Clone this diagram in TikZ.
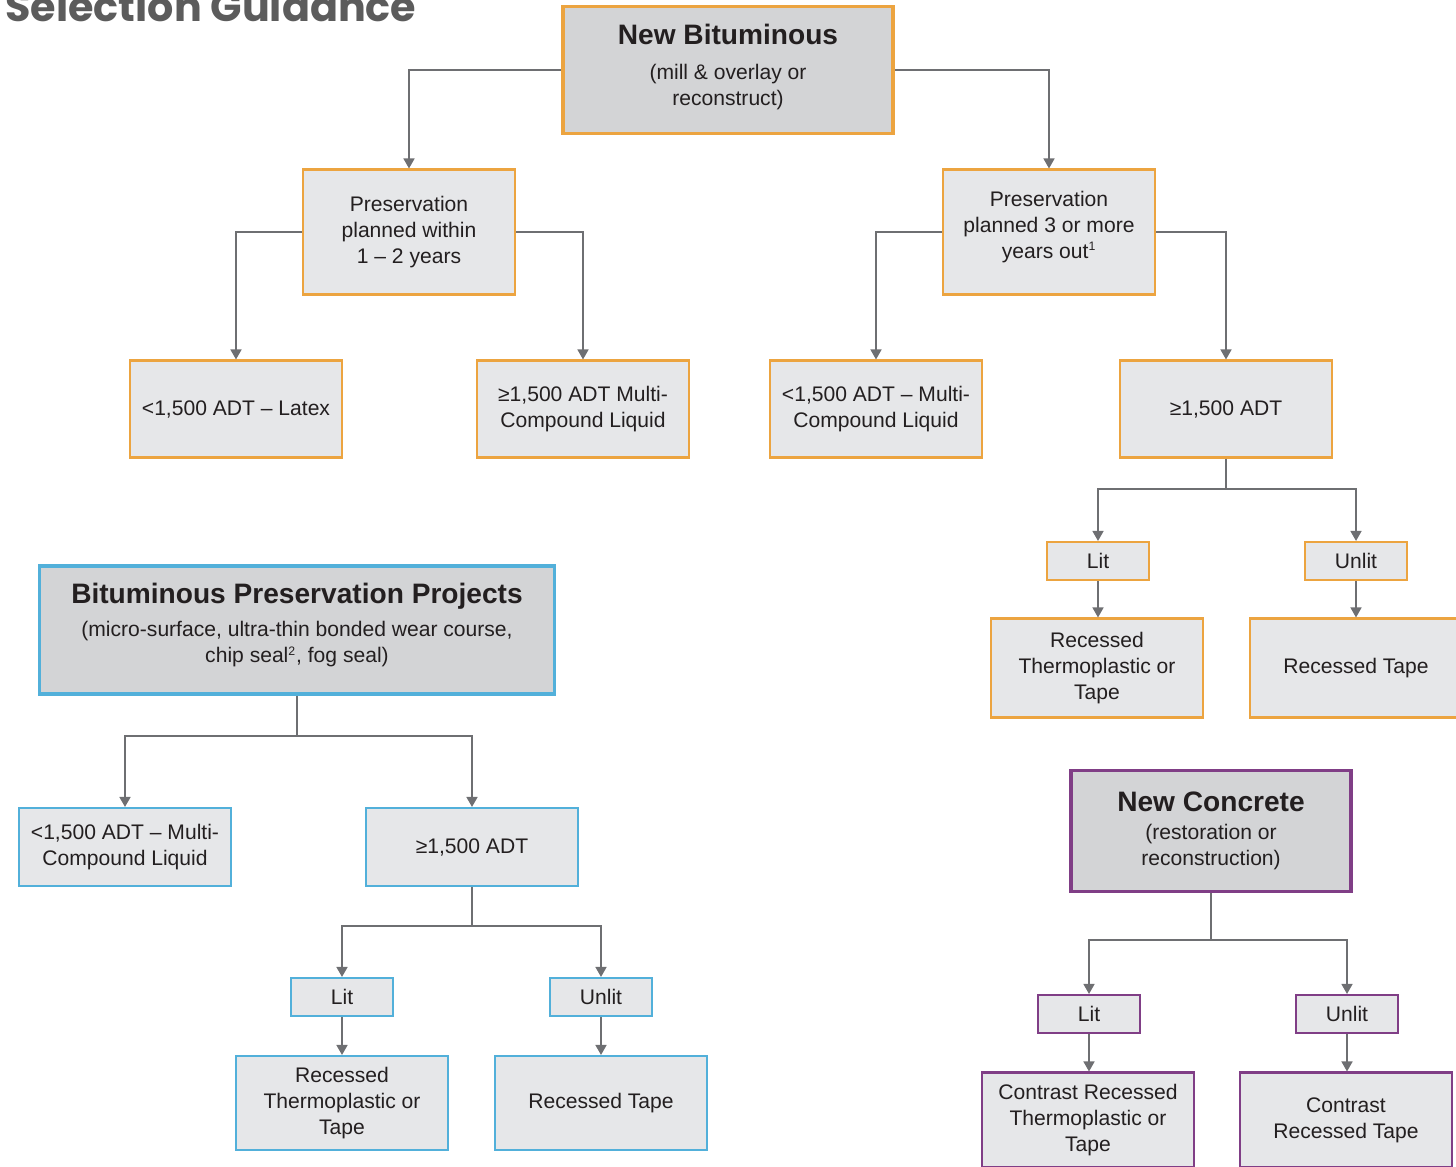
\documentclass[tikz,border=0pt]{standalone}
\usepackage{fontspec}
\setmainfont{Liberation Sans}
\newfontfamily\guidefont{Poppins}
\usetikzlibrary{arrows.meta}
\definecolor{headgray}{RGB}{211,212,214}
\definecolor{boxgray}{RGB}{230,231,233}
\definecolor{inkblack}{RGB}{35,31,32}
\definecolor{linkgray}{RGB}{110,111,114}
\definecolor{titlegray}{RGB}{92,92,92}
\definecolor{bitorange}{RGB}{236,164,64}
\definecolor{presblue}{RGB}{82,176,218}
\definecolor{conpurple}{RGB}{128,62,134}

\begin{document}
\begin{tikzpicture}[
  x=0.02cm,y=-0.02cm,
  font=\fontsize{12}{14.8}\selectfont,
  box/.style={draw=#1,line width=1.2pt,fill=boxgray,text=inkblack,align=center,inner sep=2pt,minimum width=4.24cm},
  head/.style={draw=#1,line width=2.2pt,fill=headgray,text=inkblack,align=center,inner sep=2pt},
  tag/.style={box=#1,minimum width=2.04cm,minimum height=0.76cm},
  line/.style={draw=linkgray,line width=0.9pt},
  arr/.style={line,-{Triangle[length=2mm,width=2.2mm]}},
]
\useasboundingbox (0,0) rectangle (1456,1166);
\node[anchor=base west,font=\guidefont\fontsize{23.5}{27}\selectfont\bfseries,text=titlegray,inner sep=0pt] (title) at (5,22) {Selection Guidance};

\node[head=bitorange,minimum width=6.6cm,minimum height=2.54cm,text depth=6pt] (newbit) at (728,70)
  {\fontsize{16}{19}\selectfont\bfseries New Bituminous\\[5pt]\fontsize{12}{14.5}\selectfont\mdseries (mill \& overlay or\\reconstruct)};
\node[box=bitorange,minimum height=2.5cm] (plan12) at (409,232) {Preservation\\planned within\\1 -- 2 years};
\node[box=bitorange,minimum height=2.5cm,text depth=8pt] (plan3) at (1049,232) {Preservation\\planned 3 or more\\years out\textsuperscript{\scriptsize 1}};
\node[box=bitorange,minimum height=1.94cm] (latex) at (236,409) {<1,500 ADT -- Latex};
\node[box=bitorange,minimum height=1.94cm] (mcl1) at (583,409) {≥1,500 ADT Multi-\\Compound Liquid};
\node[box=bitorange,minimum height=1.94cm] (mcl2) at (876,409) {<1,500 ADT -- Multi-\\Compound Liquid};
\node[box=bitorange,minimum height=1.94cm] (adt1) at (1226,409) {≥1,500 ADT};
\node[tag=bitorange] (lit1) at (1098,561) {Lit};
\node[tag=bitorange] (unlit1) at (1356,561) {Unlit};
\node[box=bitorange,minimum height=1.98cm] (rtt1) at (1097,668) {Recessed\\Thermoplastic or\\Tape};
\node[box=bitorange,minimum height=1.98cm] (rt1) at (1356,668) {Recessed Tape};

\node[head=presblue,minimum width=10.3cm,minimum height=2.56cm,text depth=8pt] (bpp) at (297,630)
  {\fontsize{16}{19}\selectfont\bfseries Bituminous Preservation Projects\\[4pt]\fontsize{12}{14.5}\selectfont\mdseries (micro-surface, ultra-thin bonded wear course,\\chip seal\textsuperscript{\scriptsize 2}, fog seal)};
\node[box=presblue,minimum height=1.56cm] (mcl3) at (125,847) {<1,500 ADT -- Multi-\\Compound Liquid};
\node[box=presblue,minimum height=1.56cm] (adt2) at (472,847) {≥1,500 ADT};
\node[tag=presblue] (lit2) at (342,997) {Lit};
\node[tag=presblue] (unlit2) at (601,997) {Unlit};
\node[box=presblue,minimum height=1.88cm] (rtt2) at (342,1103) {Recessed\\Thermoplastic or\\Tape};
\node[box=presblue,minimum height=1.88cm] (rt2) at (601,1103) {Recessed Tape};

\node[head=conpurple,minimum width=5.6cm,minimum height=2.42cm] (newcon) at (1211,831)
  {\fontsize{16}{19}\selectfont\bfseries New Concrete\\[1pt]\fontsize{12}{14.5}\selectfont\mdseries (restoration or\\reconstruction)};
\node[tag=conpurple] (lit3) at (1089,1014) {Lit};
\node[tag=conpurple] (unlit3) at (1347,1014) {Unlit};
\node[box=conpurple,minimum height=1.9cm] (crtt) at (1088,1120) {Contrast Recessed\\Thermoplastic or\\Tape};
\node[box=conpurple,minimum height=1.9cm] (crt) at (1346,1120) {Contrast\\Recessed Tape};

\draw[arr] (newbit.west) -| (plan12.north);
\draw[arr] (newbit.east) -| (plan3.north);
\draw[arr] (plan12.west) -| (latex.north);
\draw[arr] (plan12.east) -| (mcl1.north);
\draw[arr] (plan3.west) -| (mcl2.north);
\draw[arr] (plan3.east) -| (adt1.north);

\coordinate (fork1) at (1226,489);
\draw[line] (adt1.south) -- (fork1);
\draw[arr] (fork1) -| (lit1.north);
\draw[arr] (fork1) -| (unlit1.north);
\draw[arr] (lit1.south) -- (lit1.south |- rtt1.north);
\draw[arr] (unlit1.south) -- (rt1.north);

\coordinate (fork2) at (297,736);
\draw[line] (bpp.south) -- (fork2);
\draw[arr] (fork2) -| (mcl3.north);
\draw[arr] (fork2) -| (adt2.north);
\coordinate (fork3) at (472,926);
\draw[line] (adt2.south) -- (fork3);
\draw[arr] (fork3) -| (lit2.north);
\draw[arr] (fork3) -| (unlit2.north);
\draw[arr] (lit2.south) -- (rtt2.north);
\draw[arr] (unlit2.south) -- (rt2.north);

\coordinate (fork4) at (1211,940);
\draw[line] (newcon.south) -- (fork4);
\draw[arr] (fork4) -| (lit3.north);
\draw[arr] (fork4) -| (unlit3.north);
\draw[arr] (lit3.south) -- (lit3.south |- crtt.north);
\draw[arr] (unlit3.south) -- (unlit3.south |- crt.north);
\end{tikzpicture}
\end{document}
